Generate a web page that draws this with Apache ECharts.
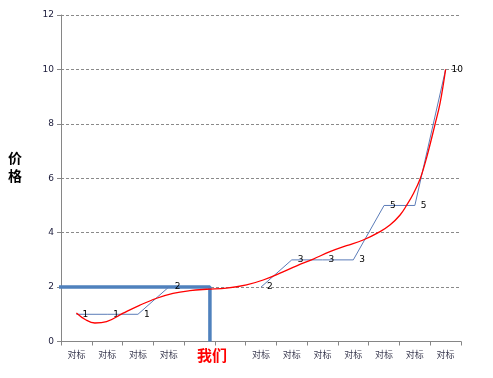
<!DOCTYPE html>
<html>
<head>
<meta charset="utf-8">
<script src="https://cdn.jsdelivr.net/npm/echarts@6/dist/echarts.min.js"></script>
<style>html,body{margin:0;padding:0;background:#fff;}#c{width:493px;height:378px;}</style>
</head>
<body>
<div id="c"></div>
<script>
// Categories (index 4 and 5 have no benchmark label; "我们" sits at the boundary)
var categories = ['对标','对标','对标','对标','','','对标','对标','对标','对标','对标','对标','对标'];
// Benchmark price steps (null = no data)
var benchValues = [1, 1, 1, 2, null, null, 2, 3, 3, 3, 5, 5, 10];
// Trend curve: [category position, price]
var trendX = [0, 0.3, 0.6, 0.98, 1.52, 2.07, 2.61, 3.14, 3.69, 4.23, 4.88, 5.53, 6.07, 6.62, 7.16, 7.70, 8.24, 8.78, 9.32, 9.87, 10.19, 10.52, 10.74, 10.96, 11.17, 11.39, 11.66, 11.82, 12.0];
var trendY = [1.05, 0.8, 0.68, 0.73, 1.04, 1.34, 1.59, 1.77, 1.87, 1.92, 1.96, 2.08, 2.26, 2.51, 2.78, 3.03, 3.30, 3.52, 3.73, 4.04, 4.28, 4.65, 5.02, 5.45, 5.97, 6.79, 8.0, 8.76, 10.0];
// Our position marker: price 2 at category position 4.34
var ourPrice = 2;
var ourPos = 4.34;
var yTicks = [0, 2, 4, 6, 8, 10, 12];

var trendData = trendX.map(function (x, i) { return [x, trendY[i]]; });
var ourData = [[-0.6, ourPrice], [ourPos, ourPrice], [ourPos, 0]];

var chart = echarts.init(document.getElementById('c'), null, {renderer: 'canvas'});
chart.setOption({
  animation: false,
  grid: {left: 61, right: 32, top: 15, bottom: 36.5, containLabel: false},
  xAxis: [{
    type: 'category',
    data: categories,
    boundaryGap: true,
    axisLine: {onZero: false, lineStyle: {color: '#868686', width: 1}},
    axisTick: {show: true, alignWithLabel: false, length: 4, lineStyle: {color: '#868686'}},
    axisLabel: {interval: 0, fontSize: 9, color: '#3a3a50', margin: 9, fontFamily: 'Noto Sans CJK SC'},
    splitLine: {show: false}
  }, {
    type: 'value',
    min: -0.5, max: 12.5,
    show: false
  }],
  yAxis: {
    type: 'value',
    min: yTicks[0], max: yTicks[yTicks.length - 1], interval: 2,
    axisLine: {show: true, onZero: false, lineStyle: {color: '#868686'}},
    axisTick: {show: true, length: 4, lineStyle: {color: '#868686'}},
    axisLabel: {fontSize: 9, color: '#1a1a3a', margin: 7, fontFamily: 'DejaVu Sans'},
    splitLine: {show: true, lineStyle: {color: '#8a8a8a', type: [3, 2], width: 1}}
  },
  series: [{
    name: '我们',
    type: 'line',
    xAxisIndex: 1,
    data: ourData,
    symbol: 'none',
    clip: false,
    lineStyle: {color: '#4f81bd', width: 3.5},
    z: 3
  }, {
    name: '对标',
    type: 'line',
    xAxisIndex: 0,
    data: benchValues,
    connectNulls: false,
    symbol: 'circle',
    symbolSize: 2,
    showSymbol: true,
    showAllSymbol: true,
    itemStyle: {color: 'rgba(0,0,0,0)', borderWidth: 0},
    lineStyle: {color: '#5b7cb8', width: 1},
    label: {show: true, position: 'right', distance: 5, fontSize: 9, color: '#000', fontFamily: 'DejaVu Sans'},
    labelLayout: {hideOverlap: false},
    z: 4
  }, {
    name: '趋势',
    type: 'line',
    xAxisIndex: 1,
    data: trendData,
    smooth: 0.4,
    symbol: 'none',
    lineStyle: {color: '#ff0000', width: 1.3},
    z: 5
  }],
  graphic: [{
    type: 'text',
    left: 197, top: 348,
    style: {text: '我们', fill: '#ff0000', font: 'bold 15px "Noto Sans CJK SC"'}
  }, {
    type: 'text',
    left: 8, top: 149,
    style: {text: '价\n格', fill: '#000', font: 'bold 14px "Noto Sans CJK SC"', lineHeight: 18}
  }]
});
</script>
</body>
</html>
